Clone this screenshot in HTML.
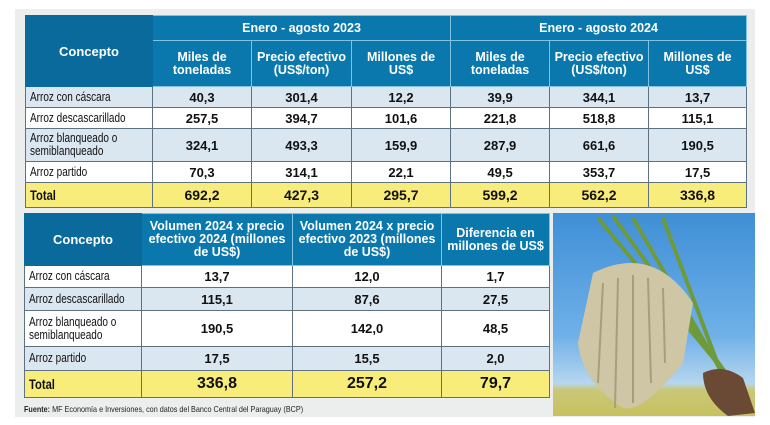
<!DOCTYPE html>
<html><head><meta charset="utf-8"><style>
*{margin:0;padding:0;box-sizing:border-box}
body{width:770px;height:425px;background:#fff;position:relative;overflow:hidden;font-family:"Liberation Sans",sans-serif}
.panel{position:absolute;left:15px;top:9px;width:740px;height:408px;background:#eceeee}
table{position:absolute;border-collapse:collapse;table-layout:fixed}
td{border:1px solid #5d7180;text-align:center;font-weight:bold;font-size:13px;color:#111;padding:0;overflow:hidden}
td.h{background:#0a78ad;color:#fff;border-color:#7fc3e3;font-size:12.5px;line-height:13px}
td.hc{background:#0a6a9c;color:#fff;font-size:13px;border-color:#0a6a9c}
td.l{text-align:left;font-weight:normal;font-size:12.5px;padding-left:4px;line-height:13px;white-space:nowrap}
td.l span{display:inline-block;transform:scaleX(0.8);transform-origin:left center}
tr.b td{background:#dae6f0}
tr.w td{background:#fff}
tr.y td{background:#f8ec7a;font-size:14px}
tr.y td.l{font-weight:bold;font-size:14px}
.src{position:absolute;left:24px;top:404px;font-size:8.5px;color:#222;white-space:nowrap;transform:scaleX(0.85);transform-origin:left}
.photo{position:absolute;left:553px;top:213px;width:202px;height:203px;background:linear-gradient(#3f8fd6,#6fb0e8 60%,#b6d6ee 84%,#c9c87a 87%,#c8c160);overflow:hidden}
</style></head><body>
<div class="panel"></div>
<table style="left:25px;top:15px;width:721px">
<colgroup><col style="width:127px"><col style="width:99px"><col style="width:100px"><col style="width:99px"><col style="width:99px"><col style="width:99px"><col style="width:98px"></colgroup>
<tr style="height:25px"><td class="hc" rowspan="2">Concepto</td><td class="h" colspan="3">Enero - agosto 2023</td><td class="h" colspan="3">Enero - agosto 2024</td></tr>
<tr style="height:46px"><td class="h">Miles de<br>toneladas</td><td class="h">Precio efectivo<br>(US$/ton)</td><td class="h">Millones de<br>US$</td><td class="h">Miles de<br>toneladas</td><td class="h">Precio efectivo<br>(US$/ton)</td><td class="h">Millones de<br>US$</td></tr>
<tr class="b" style="height:21px"><td class="l"><span>Arroz con cáscara</span></td><td>40,3</td><td>301,4</td><td>12,2</td><td>39,9</td><td>344,1</td><td>13,7</td></tr>
<tr class="w" style="height:21px"><td class="l"><span>Arroz descascarillado</span></td><td>257,5</td><td>394,7</td><td>101,6</td><td>221,8</td><td>518,8</td><td>115,1</td></tr>
<tr class="b" style="height:33px"><td class="l"><span>Arroz blanqueado o<br>semiblanqueado</span></td><td>324,1</td><td>493,3</td><td>159,9</td><td>287,9</td><td>661,6</td><td>190,5</td></tr>
<tr class="w" style="height:21px"><td class="l"><span>Arroz partido</span></td><td>70,3</td><td>314,1</td><td>22,1</td><td>49,5</td><td>353,7</td><td>17,5</td></tr>
<tr class="y" style="height:25px"><td class="l"><span>Total</span></td><td>692,2</td><td>427,3</td><td>295,7</td><td>599,2</td><td>562,2</td><td>336,8</td></tr>
</table>
<table style="left:24px;top:213px;width:525px">
<colgroup><col style="width:117px"><col style="width:151px"><col style="width:149px"><col style="width:108px"></colgroup>
<tr style="height:52px"><td class="hc">Concepto</td><td class="h">Volumen 2024 x precio<br>efectivo 2024 (millones<br>de US$)</td><td class="h">Volumen 2024 x precio<br>efectivo 2023 (millones<br>de US$)</td><td class="h">Diferencia en<br>millones de US$</td></tr>
<tr class="w" style="height:22px"><td class="l"><span>Arroz con cáscara</span></td><td>13,7</td><td>12,0</td><td>1,7</td></tr>
<tr class="b" style="height:23px"><td class="l"><span>Arroz descascarillado</span></td><td>115,1</td><td>87,6</td><td>27,5</td></tr>
<tr class="w" style="height:36px"><td class="l"><span>Arroz blanqueado o<br>semiblanqueado</span></td><td>190,5</td><td>142,0</td><td>48,5</td></tr>
<tr class="b" style="height:24px"><td class="l"><span>Arroz partido</span></td><td>17,5</td><td>15,5</td><td>2,0</td></tr>
<tr class="y" style="height:27px"><td class="l"><span>Total</span></td><td style="font-size:16px">336,8</td><td style="font-size:16px">257,2</td><td style="font-size:16px">79,7</td></tr>
</table>
<div class="src"><b>Fuente:</b> MF Economía e Inversiones, con datos del Banco Central del Paraguay (BCP)</div>
<div class="photo">
<svg width="202" height="203" viewBox="0 0 202 203">
<g stroke="#6f9a3a" stroke-width="4" fill="none"><path d="M45 5 L185 175"/><path d="M60 3 L180 170"/><path d="M80 5 L175 170"/><path d="M110 5 L170 165"/></g>
<path d="M40 60 Q100 30 140 90 L130 150 Q90 200 70 195 Q30 170 25 130 Z" fill="#cfc6a6"/>
<g stroke="#a89e7e" stroke-width="2"><path d="M50 70 L45 170"/><path d="M65 65 L62 195"/><path d="M80 62 L80 190"/><path d="M95 65 L98 170"/><path d="M110 75 L112 150"/></g>
<path d="M150 160 Q170 150 190 165 L202 200 L175 203 Q150 185 150 160Z" fill="#6b4a35"/>
</svg>
</div>
</body></html>
